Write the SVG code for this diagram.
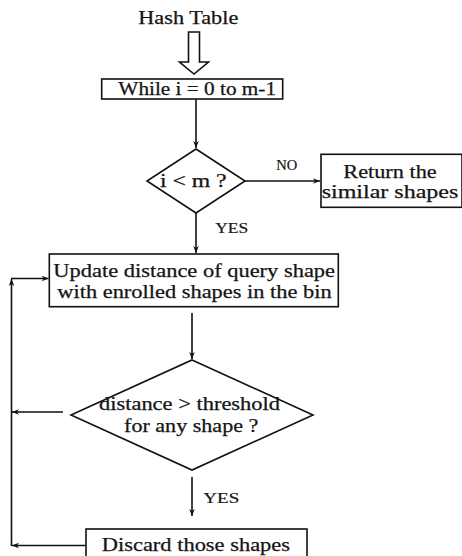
<svg xmlns="http://www.w3.org/2000/svg" width="462" height="556" viewBox="0 0 462 556">
<defs>
<marker id="ah" viewBox="0 0 10 8" refX="10" refY="4" markerWidth="7" markerHeight="5.6" markerUnits="userSpaceOnUse" orient="auto">
<path d="M0,0 L10,4 L0,8 L3,4 Z" fill="#111"/>
</marker>
<style>
.s{fill:#fff;stroke:#111;stroke-width:1.6}
.l{fill:none;stroke:#111;stroke-width:1.6}
.t{font-family:"Liberation Serif","Times New Roman",serif;font-size:18px;fill:#151515;stroke:#151515;stroke-width:0.25}
.m{font-family:"Liberation Serif","Times New Roman",serif;font-size:15px;fill:#151515;stroke:#151515;stroke-width:0.2}
</style>
</defs>
<rect width="462" height="556" fill="#fff"/>
<g id="connectors">
<polygon class="s" points="188.5,32 199.5,32 199.5,62 208.5,62 194,74 179.5,62 188.5,62"/>
<line class="l" x1="196" y1="99" x2="196" y2="148" marker-end="url(#ah)"/>
<line class="l" x1="245" y1="181" x2="320" y2="181" marker-end="url(#ah)"/>
<line class="l" x1="196" y1="213" x2="196" y2="253" marker-end="url(#ah)"/>
<line class="l" x1="192" y1="313" x2="192" y2="359" marker-end="url(#ah)"/>
<line class="l" x1="63" y1="412" x2="12" y2="412" marker-end="url(#ah)"/>
<line class="l" x1="192" y1="477" x2="192" y2="516" marker-end="url(#ah)"/>
<line class="l" x1="86" y1="545.5" x2="12" y2="545.5" marker-end="url(#ah)"/>
<line class="l" x1="11.5" y1="546" x2="11.5" y2="279" marker-end="url(#ah)"/>
<line class="l" x1="11" y1="278.5" x2="48.5" y2="278.5" marker-end="url(#ah)"/>
<text class="m" x="286.7" y="170" text-anchor="middle" textLength="21" lengthAdjust="spacingAndGlyphs">NO</text>
<text class="m" x="231.7" y="233.3" text-anchor="middle" textLength="33" lengthAdjust="spacingAndGlyphs">YES</text>
<text class="m" x="221.3" y="503.3" text-anchor="middle" textLength="36" lengthAdjust="spacingAndGlyphs">YES</text>
</g>
<g id="hash-table">
<text class="t" x="188.3" y="24" text-anchor="middle" textLength="100" lengthAdjust="spacingAndGlyphs">Hash Table</text>
</g>
<g id="while-loop">
<rect class="s" x="101.7" y="79" width="181" height="20"/>
<text class="t" x="197.2" y="94.5" text-anchor="middle" textLength="157.7" lengthAdjust="spacingAndGlyphs">While i = 0 to m-1</text>
</g>
<g id="check-i">
<polygon class="s" points="196,149 245,181 196,213 147,181"/>
<text class="t" x="193.3" y="187" text-anchor="middle" textLength="66.7" lengthAdjust="spacingAndGlyphs">i &lt; m ?</text>
</g>
<g id="return-shapes">
<rect class="s" x="321" y="154.3" width="141" height="53"/>
<text class="t" x="390" y="178.3" text-anchor="middle" textLength="93.4" lengthAdjust="spacingAndGlyphs">Return the</text>
<text class="t" x="390" y="197.5" text-anchor="middle" textLength="136.6" lengthAdjust="spacingAndGlyphs">similar shapes</text>
</g>
<g id="update-distance">
<rect class="s" x="49.3" y="254" width="289" height="52.7"/>
<text class="t" x="194.2" y="276.5" text-anchor="middle" textLength="281.7" lengthAdjust="spacingAndGlyphs">Update distance of query shape</text>
<text class="t" x="194.5" y="297.5" text-anchor="middle" textLength="274.4" lengthAdjust="spacingAndGlyphs">with enrolled shapes in the bin</text>
</g>
<g id="check-threshold">
<polygon class="s" points="192,360 313,415 192,470 71,415"/>
<text class="t" x="189.5" y="410" text-anchor="middle" textLength="181" lengthAdjust="spacingAndGlyphs">distance &gt; threshold</text>
<text class="t" x="191.2" y="432" text-anchor="middle" textLength="134.3" lengthAdjust="spacingAndGlyphs">for any shape ?</text>
</g>
<g id="discard">
<rect class="s" x="86" y="529" width="221" height="30"/>
<text class="t" x="195.9" y="550.5" text-anchor="middle" textLength="188.3" lengthAdjust="spacingAndGlyphs">Discard those shapes</text>
</g>
</svg>
